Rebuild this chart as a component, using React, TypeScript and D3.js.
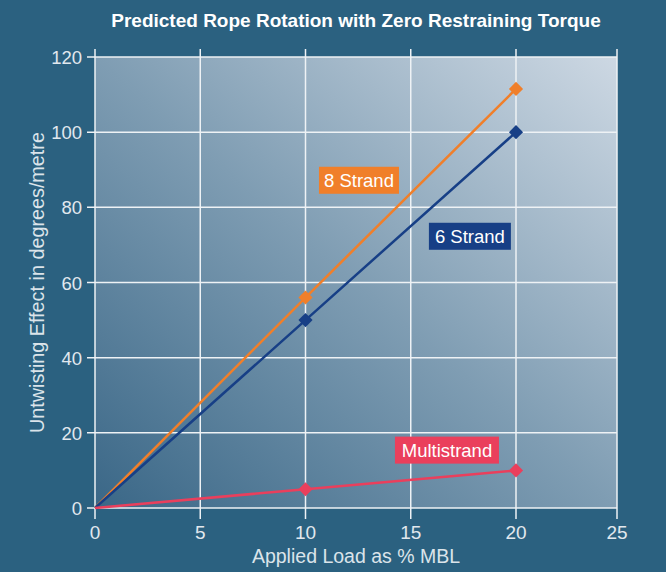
import React from "react";
import * as d3 from "d3";

const loads = [0, 10, 20];
const strand8 = [0, 56, 111.5];
const strand6 = [0, 50, 100];
const multistrand = [0, 5, 10];
const xTicks = [0, 5, 10, 15, 20, 25];
const yTicks = [0, 20, 40, 60, 80, 100, 120];

const seriesList = [
  { name: "8 Strand", values: strand8, color: "#f07f2a", lx: 12.54, ly: 87.2, bw: 80 },
  { name: "6 Strand", values: strand6, color: "#173f86", lx: 17.81, ly: 72.3, bw: 82 },
  { name: "Multistrand", values: multistrand, color: "#ea3f5c", lx: 16.72, ly: 15.4, bw: 104 },
];

export default function App() {
  const W = 666, H = 572;
  const x = d3.scaleLinear().domain([0, 20, 25]).range([95, 516, 617]);
  const y = d3.scaleLinear().domain([0, 120]).range([508, 57]);
  const line = d3.line<number>().x((_, i) => x(loads[i])).y((v) => y(v));
  const font = "'Liberation Sans', Arial, Helvetica, sans-serif";
  const tickCol = "#e1e8ee";
  return (
    <svg width={W} height={H} style={{ position: "absolute", left: 0, top: 0 }} fontFamily={font}>
      <defs>
        <linearGradient id="bg" x1="0" y1="1" x2="1" y2="0">
          <stop offset="0" stopColor="#3a6787" />
          <stop offset="0.5" stopColor="#7f9db3" />
          <stop offset="1" stopColor="#cdd8e3" />
        </linearGradient>
      </defs>
      <rect width={W} height={H} fill="#2b6180" />
      <rect x={x(0)} y={y(120)} width={x(25) - x(0)} height={y(0) - y(120)} fill="url(#bg)" />
      {xTicks.map((t) => (
        <line key={"gx" + t} x1={x(t)} x2={x(t)} y1={y(120) - 8} y2={y(0) + 11} stroke="#eef2f5" strokeWidth={1.5} />
      ))}
      {yTicks.map((t) => (
        <line key={"gy" + t} x1={x(0) - 8} x2={x(25)} y1={y(t)} y2={y(t)} stroke="#eef2f5" strokeWidth={1.5} />
      ))}
      {xTicks.map((t) => (
        <text key={"tx" + t} x={x(t)} y={y(0) + 31} fill={tickCol} fontSize={19} textAnchor="middle">{t}</text>
      ))}
      {yTicks.map((t) => (
        <text key={"ty" + t} x={x(0) - 13} y={y(t) + 7} fill={tickCol} fontSize={18.5} textAnchor="end">{t}</text>
      ))}
      {seriesList.map((s) => (
        <g key={s.name}>
          <path d={line(s.values) || ""} fill="none" stroke={s.color} strokeWidth={2.5} />
          {s.values.slice(1).map((v, i) => (
            <rect key={i} x={-5} y={-5} width={10} height={10} fill={s.color}
              transform={`translate(${x(loads[i + 1])},${y(v)}) rotate(45)`} />
          ))}
        </g>
      ))}
      {seriesList.map((s) => (
        <g key={"l" + s.name} transform={`translate(${x(s.lx)},${y(s.ly)})`}>
          <rect x={-s.bw / 2} y={-13.5} width={s.bw} height={27} fill={s.color} />
          <text x={0} y={6.5} fill="#ffffff" fontSize={18.5} textAnchor="middle">{s.name}</text>
        </g>
      ))}
      <text x={356} y={27} fill="#ffffff" fontSize={19} fontWeight="bold" textAnchor="middle">
        Predicted Rope Rotation with Zero Restraining Torque
      </text>
      <text x={356} y={563} fill="#dbe4ea" fontSize={19.5} textAnchor="middle">Applied Load as % MBL</text>
      <text transform={`translate(44,${(y(0) + y(120)) / 2}) rotate(-90)`} fill="#dbe4ea" fontSize={19.8} textAnchor="middle">
        Untwisting Effect in degrees/metre
      </text>
    </svg>
  );
}
